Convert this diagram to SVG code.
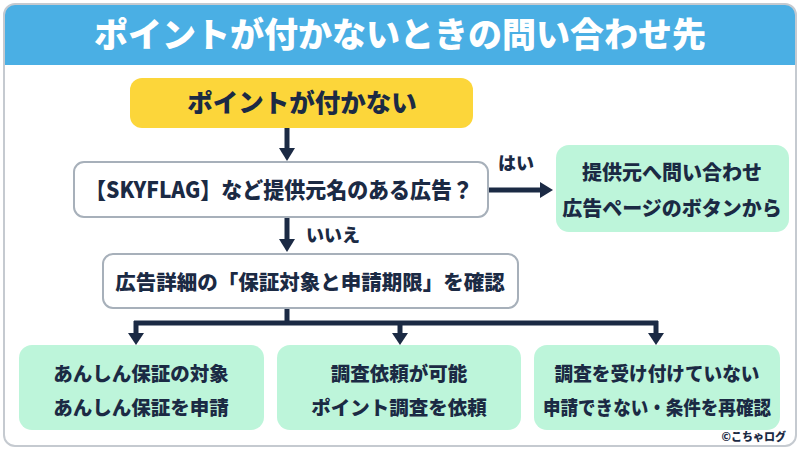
<svg xmlns="http://www.w3.org/2000/svg" width="800" height="450" viewBox="0 0 800 450">
<defs>
<style>
.t{font-family:"Noto Sans CJK JP","Noto Sans",sans-serif;font-weight:900;fill:#1b2a44;text-anchor:middle;}
.ln{stroke:#1b2a44;stroke-width:5;fill:none;}
.ah{fill:#1b2a44;}
.green{fill:#bdf5da;}
.wbox{fill:#ffffff;stroke:#a7b0ba;stroke-width:2;}
</style>
<clipPath id="cardclip"><rect x="4" y="4" width="792" height="442" rx="11"/></clipPath>
</defs>
<rect x="0" y="0" width="800" height="450" fill="#ffffff"/>
<g id="card">
<rect x="4" y="4" width="792" height="442" rx="11" fill="#ffffff"/>
<rect x="4" y="4" width="792" height="61" fill="#4aafe4" clip-path="url(#cardclip)"/>
<rect x="4" y="4" width="792" height="442" rx="11" fill="none" stroke="#c5cad0" stroke-width="2"/>
<text x="400" y="47" class="t" style="fill:#ffffff;font-size:34px">ポイントが付かないときの問い合わせ先</text>
</g>
<g id="connectors">
<line x1="287" y1="128" x2="287" y2="149" class="ln"/>
<polygon points="279,148 295,148 287,161" class="ah"/>
<line x1="488" y1="190" x2="542" y2="190" class="ln"/>
<polygon points="540,182 540,198 553,190" class="ah"/>
<text x="516" y="170" class="t" style="font-size:18px">はい</text>
<line x1="287" y1="217" x2="287" y2="240" class="ln"/>
<polygon points="279,239 295,239 287,252" class="ah"/>
<text x="306" y="242" class="t" style="font-size:18px;text-anchor:start">いいえ</text>
<polyline points="287,308 287,323" class="ln"/>
<line x1="134" y1="323" x2="658" y2="323" class="ln"/>
<line x1="136" y1="321" x2="136" y2="334" class="ln"/>
<polygon points="128,333 144,333 136,345" class="ah"/>
<line x1="400" y1="323" x2="400" y2="334" class="ln"/>
<polygon points="392,333 408,333 400,345" class="ah"/>
<line x1="656" y1="321" x2="656" y2="334" class="ln"/>
<polygon points="648,333 664,333 656,345" class="ah"/>
</g>
<g id="start">
<rect x="130" y="78" width="343" height="50" rx="12" fill="#fcd63a"/>
<text x="302" y="112" class="t" style="font-size:25.5px">ポイントが付かない</text>
</g>
<g id="question">
<rect x="74" y="162" width="414" height="55" rx="10" class="wbox"/>
<text x="279" y="198" class="t" style="font-size:22px" textLength="388" lengthAdjust="spacingAndGlyphs">【SKYFLAG】など提供元名のある広告？</text>
</g>
<g id="yes">
<rect x="556" y="145" width="233" height="87" rx="13" class="green"/>
<text x="672" y="180" class="t" style="font-size:20px">提供元へ問い合わせ</text>
<text x="672" y="216" class="t" style="font-size:20px">広告ページのボタンから</text>
</g>
<g id="check">
<rect x="103" y="254" width="415" height="54" rx="10" class="wbox"/>
<text x="310" y="290" class="t" style="font-size:20.5px">広告詳細の「保証対象と申請期限」を確認</text>
</g>
<g id="caseA">
<rect x="19" y="345" width="245" height="85" rx="13" class="green"/>
<text x="141" y="381" class="t" style="font-size:19.5px">あんしん保証の対象</text>
<text x="141" y="415" class="t" style="font-size:19.5px">あんしん保証を申請</text>
</g>
<g id="caseB">
<rect x="277" y="345" width="244" height="85" rx="13" class="green"/>
<text x="399" y="381" class="t" style="font-size:19.5px">調査依頼が可能</text>
<text x="399" y="415" class="t" style="font-size:19.5px">ポイント調査を依頼</text>
</g>
<g id="caseC">
<rect x="534" y="345" width="246" height="85" rx="13" class="green"/>
<text x="657" y="381" class="t" style="font-size:19px" textLength="205" lengthAdjust="spacingAndGlyphs">調査を受け付けていない</text>
<text x="657" y="415" class="t" style="font-size:19.5px" textLength="228" lengthAdjust="spacingAndGlyphs">申請できない・条件を再確認</text>
</g>
<text x="786" y="441" class="t" style="font-size:11px;text-anchor:end">©こちゃログ</text>
</svg>
